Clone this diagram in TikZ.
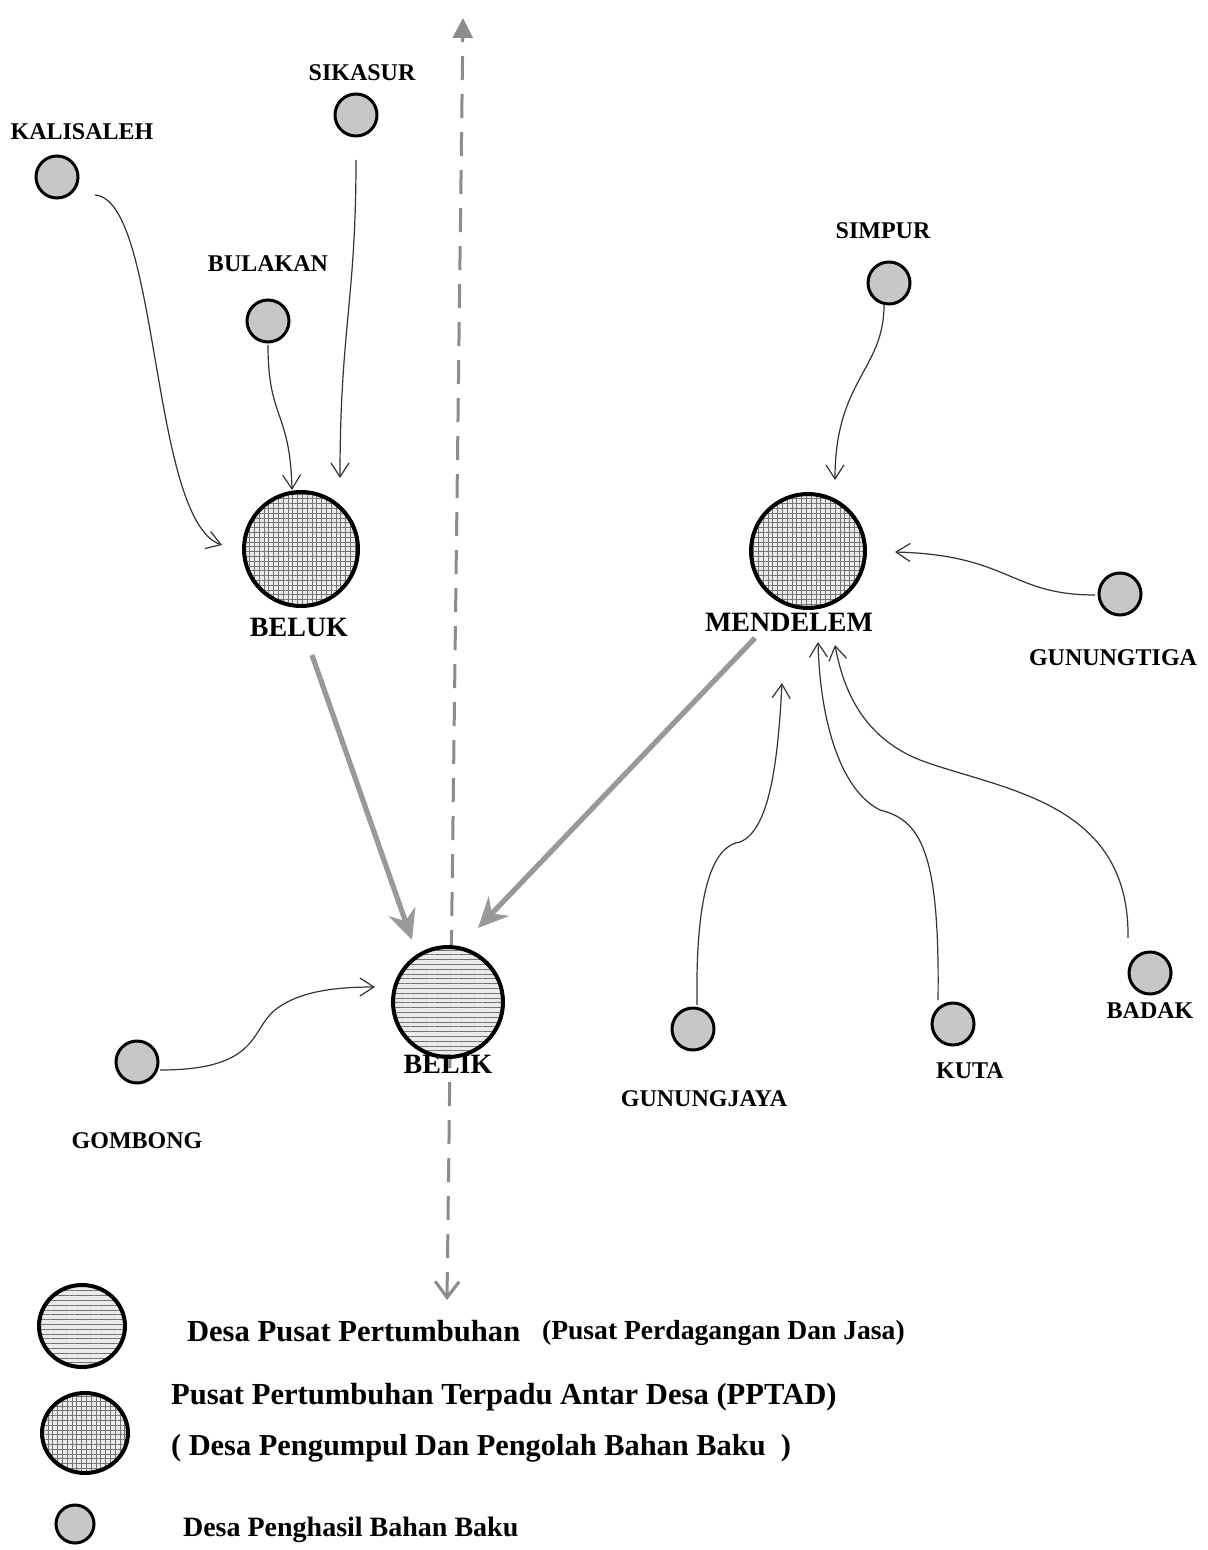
\documentclass[tikz,border=0pt]{standalone}
\usepackage{fontspec}
\setmainfont{Liberation Serif}
\usetikzlibrary{arrows.meta,patterns.meta,calc,shapes.geometric}
\begin{document}
\begin{tikzpicture}[x=0.5pt,y=-0.5pt,
  smallv/.style={circle,draw=black,line width=1.5pt,fill=black!22,inner sep=0pt,minimum size=21pt},
  pptad/.style={circle,draw=black,line width=2pt,inner sep=0pt,minimum size=57pt,
    preaction={fill=black!8},pattern={Hatch[angle=0,distance=2.4pt,line width=0.35pt]},pattern color=black!55},
  pusat/.style={circle,draw=black,line width=2pt,inner sep=0pt,minimum size=55pt,
    preaction={fill=black!8},pattern={Lines[angle=0,distance=2.4pt,line width=0.35pt]},pattern color=black!55},
  vlab/.style={font=\bfseries\fontsize{12}{14}\selectfont},
  blab/.style={font=\bfseries\fontsize{14}{16}\selectfont},
  leg/.style={font=\bfseries\fontsize{15.3}{17}\selectfont,anchor=west},
  legs/.style={font=\bfseries\fontsize{14}{16}\selectfont,anchor=west},
  conn/.style={draw=black!80,line width=0.6pt,-{Straight Barb[length=7pt,width=9pt]}},
  flow/.style={draw=black!40,line width=2.6pt,-{Stealth[length=15pt,width=14pt,inset=5pt]}},
  axisline/.style={draw=black!45,line width=1.5pt,dash pattern=on 12pt off 7pt}
]
\useasboundingbox[fill=white] (0,0) rectangle (1207,1550);

% vertical dashed axis
\coordinate (axtop) at (463,18);
\coordinate (axbot) at (447,1300);
\draw[axisline,{Straight Barb[length=8pt,width=12pt]}-{Triangle[length=10pt,width=10pt,fill=black!45]}] (axbot) -- (axtop);

% villages
\node[smallv] (kalisaleh) at (57,177) {};
\node[vlab] (lkalisaleh) at (82,132) {KALISALEH};
\node[smallv] (sikasur) at (356,115) {};
\node[vlab] (lsikasur) at (362,73) {SIKASUR};
\node[smallv] (bulakan) at (268,321) {};
\node[vlab] (lbulakan) at (268,264) {BULAKAN};
\node[smallv] (simpur) at (889,283) {};
\node[vlab] (lsimpur) at (883,231) {SIMPUR};
\node[smallv] (gunungtiga) at (1120,594) {};
\node[vlab] (lgunungtiga) at (1113,658) {GUNUNGTIGA};
\node[smallv] (gombong) at (137,1062) {};
\node[vlab] (lgombong) at (137,1141) {GOMBONG};
\node[smallv] (gunungjaya) at (693,1029) {};
\node[vlab] (lgunungjaya) at (704,1099) {GUNUNGJAYA};
\node[smallv] (kuta) at (953,1024) {};
\node[vlab] (lkuta) at (970,1071) {KUTA};
\node[smallv] (badak) at (1150,973) {};
\node[vlab] (lbadak) at (1150,1011) {BADAK};

% centres
\node[pptad] (beluk) at (301,549) {};
\node[blab] (lbeluk) at (299,627) {BELUK};
\node[pptad] (mendelem) at (808,551) {};
\node[blab] (lmendelem) at (789,622) {MENDELEM};
\node[pusat] (belik) at (448,1002) {};
\node[blab] (lbelik) at (448,1064) {BELIK};

% thin connectors
\draw[conn] ($(kalisaleh)+(38,18)$) .. controls (160,200) and (150,520) .. ($(beluk)+(-79,-4)$);
\draw[conn] ($(sikasur)+(0,45)$) .. controls (356,300) and (340,330) .. ($(beluk)+(39,-71)$);
\draw[conn] ($(bulakan)+(0,24)$) .. controls (268,420) and (290,410) .. ($(beluk)+(-9,-59)$);
\draw[conn] ($(simpur)+(-5,22)$) .. controls (884,370) and (835,380) .. ($(mendelem)+(27,-71)$);
\draw[conn] ($(gunungtiga)+(-25,1)$) .. controls (1010,595) and (1010,555) .. ($(mendelem)+(87,1)$);
\draw[conn] ($(gunungjaya)+(4,-24)$) .. controls (695,870) and (720,845) .. (740,842)
   .. controls (770,830) and (778,760) .. ($(mendelem)+(-26,132)$);
\draw[conn] ($(kuta)+(-15,-24)$) .. controls (940,850) and (920,820) .. (880,810)
   .. controls (840,790) and (820,720) .. ($(mendelem)+(10,91)$);
\draw[conn] ($(badak)+(-22,-35)$) .. controls (1130,800) and (1000,790) .. (920,760)
   .. controls (870,740) and (845,700) .. ($(mendelem)+(27,94)$);
\draw[conn] ($(gombong)+(23,8)$) .. controls (260,1070) and (250,1030) .. (275,1010)
   .. controls (300,990) and (340,987) .. ($(belik)+(-73,-15)$);

% thick flows
\draw[flow] ($(lbeluk)+(13,28)$) -- ($(belik)+(-36,-62)$);
\draw[flow] ($(lmendelem)+(-34,16)$) -- ($(belik)+(30,-74)$);

% legend
\node[ellipse,draw=black,line width=2pt,inner sep=0pt,minimum width=43pt,minimum height=41pt,
   preaction={fill=black!8},pattern={Lines[angle=0,distance=2.4pt,line width=0.35pt]},pattern color=black!55] (leg1) at (82,1326) {};
\node[ellipse,draw=black,line width=2pt,inner sep=0pt,minimum width=43pt,minimum height=40pt,
   preaction={fill=black!8},pattern={Hatch[angle=0,distance=2.4pt,line width=0.35pt]},pattern color=black!55] (leg2) at (85,1433) {};
\node[smallv,minimum size=19pt] (leg3) at (75,1524) {};
\node[leg] (t1) at (180,1331) {Desa Pusat Pertumbuhan};
\node[legs,font=\bfseries\fontsize{13.8}{15}\selectfont] (t1b) at (535,1333) {(Pusat Perdagangan Dan Jasa)};
\node[leg] (t2) at (164,1397) {Pusat Pertumbuhan Terpadu Antar Desa (PPTAD)};
\node[legs,font=\bfseries\fontsize{15.2}{17}\selectfont] (t3) at (164,1448) {( Desa Pengumpul Dan Pengolah Bahan Baku~ )};
\node[legs] (t4) at (176,1530) {Desa Penghasil Bahan Baku};
\end{tikzpicture}
\end{document}
